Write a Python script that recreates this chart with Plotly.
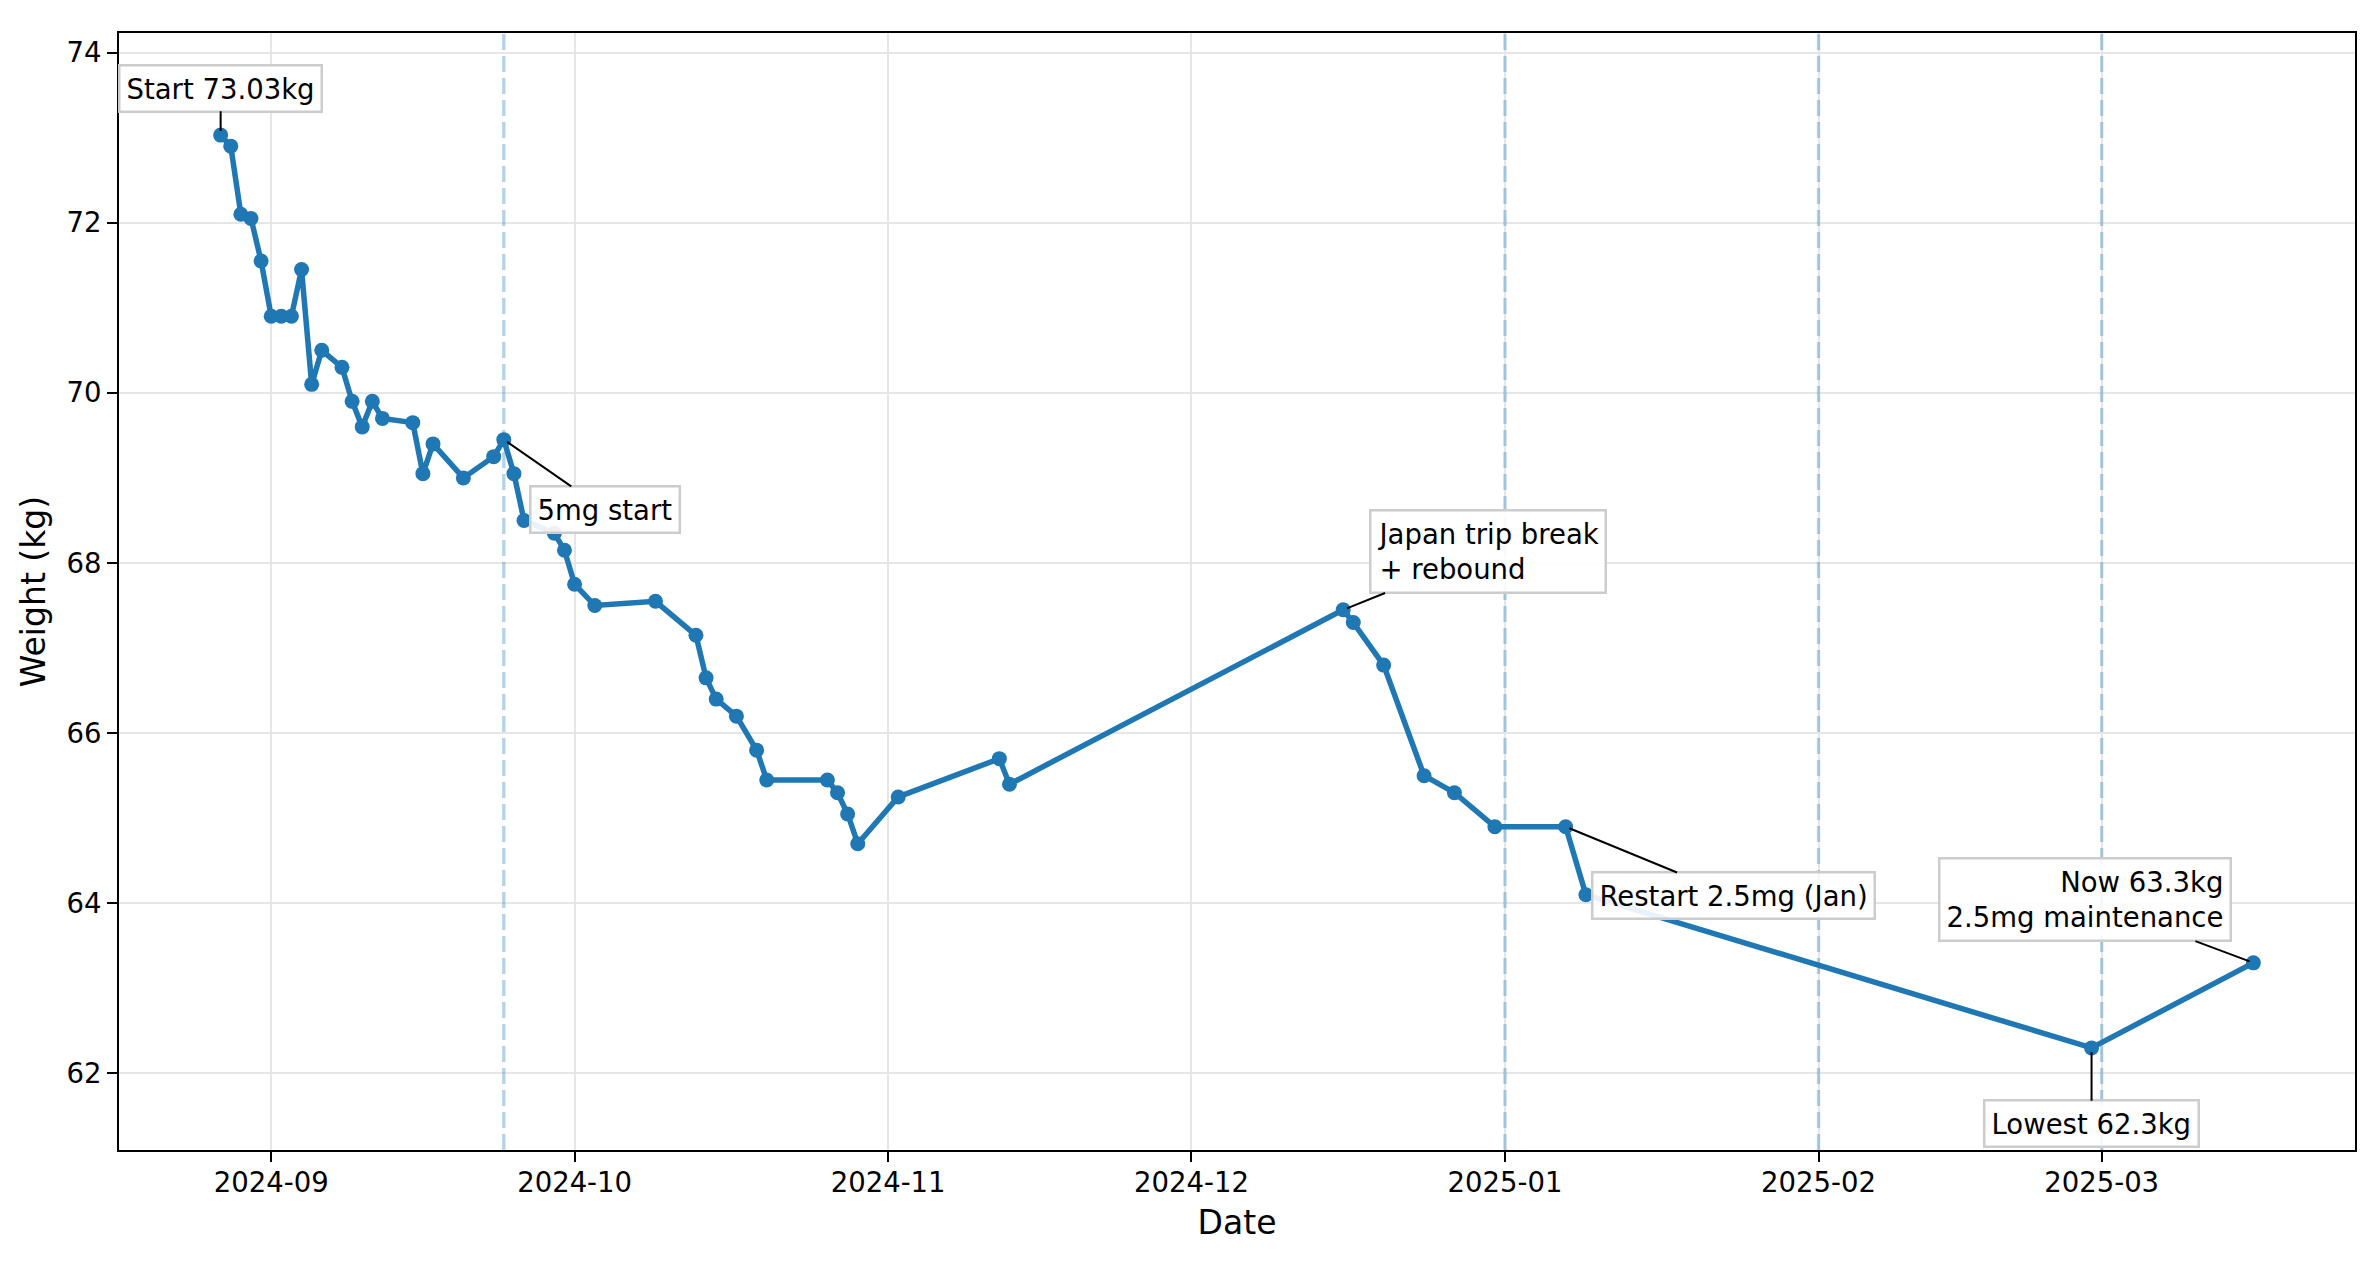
import plotly.graph_objects as go

dates = [
    "2024-08-27", "2024-08-28", "2024-08-29", "2024-08-30", "2024-08-31",
    "2024-09-01", "2024-09-02", "2024-09-03", "2024-09-04", "2024-09-05",
    "2024-09-06", "2024-09-08", "2024-09-09", "2024-09-10", "2024-09-11",
    "2024-09-12", "2024-09-15", "2024-09-16", "2024-09-17", "2024-09-20",
    "2024-09-23", "2024-09-24", "2024-09-25", "2024-09-26", "2024-09-29",
    "2024-09-30", "2024-10-01", "2024-10-03", "2024-10-09", "2024-10-13",
    "2024-10-14", "2024-10-15", "2024-10-17", "2024-10-19", "2024-10-20",
    "2024-10-26", "2024-10-27", "2024-10-28", "2024-10-29", "2024-11-02",
    "2024-11-12", "2024-11-13", "2024-12-16", "2024-12-17", "2024-12-20",
    "2024-12-24", "2024-12-27", "2024-12-31", "2025-01-07", "2025-01-09",
    "2025-02-28", "2025-03-16",
]
weights = [
    73.03, 72.9, 72.1, 72.05, 71.55,
    70.9, 70.9, 70.9, 71.45, 70.1,
    70.5, 70.3, 69.9, 69.6, 69.9,
    69.7, 69.65, 69.05, 69.4, 69.0,
    69.25, 69.45, 69.05, 68.5, 68.35,
    68.15, 67.75, 67.5, 67.55, 67.15,
    66.65, 66.4, 66.2, 65.8, 65.45,
    65.45, 65.3, 65.05, 64.7, 65.25,
    65.7, 65.4, 67.45, 67.3, 66.8,
    65.5, 65.3, 64.9, 64.9, 64.1,
    62.3, 63.3,
]

marker_dates = ["2024-09-24", "2025-01-01", "2025-02-01", "2025-03-01"]

note_dates = ["2024-08-27", "2024-09-24", "2024-12-16", "2025-01-07", "2025-02-28", "2025-03-16"]
note_weights = [73.03, 69.45, 67.45, 64.9, 62.3, 63.3]
note_texts = [
    "Start 73.03kg",
    "5mg start",
    "Japan trip break<br>+ rebound",
    "Restart 2.5mg (Jan)",
    "Lowest 62.3kg",
    "Now 63.3kg<br>2.5mg maintenance",
]
note_offsets = [(0, -47), (101, 70), (145, -58), (168, 69), (0, 76), (-168, -63)]
note_align = ["center", "left", "left", "left", "center", "right"]

BLUE = "#1f77b4"
FONT = "DejaVu Sans"

fig = go.Figure()
fig.add_trace(go.Scatter(
    x=dates, y=weights, mode="lines+markers",
    line=dict(color=BLUE, width=5.5),
    marker=dict(color=BLUE, size=15),
    showlegend=False,
))

for d in marker_dates:
    fig.add_shape(type="line", xref="x", yref="paper", x0=d, x1=d, y0=0, y1=1,
                  line=dict(color="rgba(31,119,180,0.33)", width=3.3, dash="16px,6px"),
                  layer="above")

for d, w, t, (ax, ay), al in zip(note_dates, note_weights, note_texts, note_offsets, note_align):
    fig.add_annotation(
        x=d, y=w, text=t, showarrow=True, arrowhead=0, arrowwidth=2,
        arrowcolor="black", ax=ax, ay=ay, standoff=4, align=al,
        font=dict(family=FONT, size=27.5, color="black"),
        bgcolor="rgba(255,255,255,0.9)", bordercolor="#cccccc",
        borderwidth=2.5, borderpad=6,
    )

axis_common = dict(
    showline=True, linecolor="black", linewidth=2.2, mirror=True,
    ticks="outside", ticklen=10, tickwidth=2.2, tickcolor="black",
    showgrid=True, gridcolor="#e6e6e6", gridwidth=2,
    zeroline=False,
    tickfont=dict(family=FONT, size=27.5, color="black"),
)

fig.update_layout(
    width=2360, height=1246,
    margin=dict(l=111, r=11, t=25, b=104),
    paper_bgcolor="white", plot_bgcolor="white",
    font=dict(family=FONT, color="black"),
    xaxis=dict(
        **axis_common,
        type="date",
        range=["2024-08-16 22:48:00", "2025-03-26 01:12:00"],
        dtick="M1", tick0="2024-09-01", tickformat="%Y-%m",
        ticklabelstandoff=-3,
        title=dict(text="Date", font=dict(family=FONT, size=33), standoff=14),
    ),
    yaxis=dict(
        **axis_common,
        range=[61.1, 74.23],
        tickvals=[62, 64, 66, 68, 70, 72, 74],
        title=dict(text="Weight (kg)", font=dict(family=FONT, size=33), standoff=11),
    ),
)

fig.write_html("out.html")
